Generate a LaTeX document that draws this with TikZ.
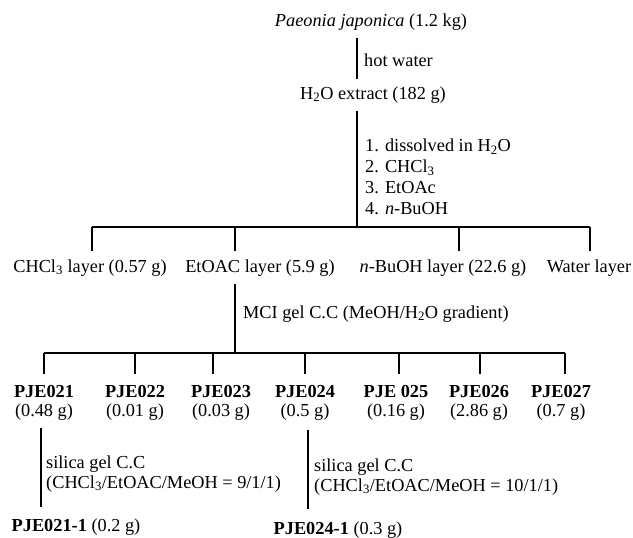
\documentclass[tikz,border=0pt]{standalone}
\usepackage{fontspec}
\setmainfont{Liberation Serif}
\newcommand\subs[1]{\textsubscript{#1}}
\tikzset{
  lbl/.style={inner sep=0pt, font=\fontsize{18.3}{21}\selectfont},
  frac/.style={lbl, align=center, font=\fontsize{18.3}{19}\selectfont},
  note/.style={lbl, anchor=west, align=left, font=\fontsize{18.3}{20}\selectfont},
  link/.style={line width=1.5pt},
}
\begin{document}
\begin{tikzpicture}[x=1pt,y=-1pt]
\useasboundingbox (0,0) rectangle (633,538);
% main chain
\node[lbl] (pj) at (371,22) {\textit{Paeonia japonica} (1.2 kg)};
\node[lbl] (h2o) at (373,95) {H\subs{2}O extract (182 g)};
\node[lbl, anchor=west] (hw) at (364,60) {hot water};
\node[note, font=\fontsize{18.3}{21}\selectfont] (steps) at (365,177) {1. dissolved in H\subs{2}O\\2. CHCl\subs{3}\\3. EtOAc\\4. \textit{n}-BuOH};
\coordinate (c1) at (357,0);
\draw[link, shorten <=7pt, shorten >=7pt] (pj.south -| c1) -- (h2o.north -| c1);
% first split
\coordinate (j1) at (357,227);
\coordinate (b1a) at (92,227);
\coordinate (b1b) at (235,227);
\coordinate (b1c) at (459,227);
\coordinate (b1d) at (590,227);
\draw[link, shorten <=7pt] (h2o.south -| j1) -- (j1);
\draw[link] (b1a) -- (b1d);
\node[lbl] (chcl) at (90,268) {CHCl\subs{3} layer (0.57 g)};
\node[lbl] (etoac) at (260,268) {EtOAC layer (5.9 g)};
\node[lbl] (buoh) at (443,268) {\textit{n}-BuOH layer (22.6 g)};
\node[lbl] (water) at (589,268) {Water layer};
\draw[link, shorten >=8pt] (b1a) -- (b1a |- chcl.north);
\draw[link, shorten >=8pt] (b1b) -- (b1b |- etoac.north);
\draw[link, shorten >=8pt] (b1c) -- (b1c |- buoh.north);
\draw[link, shorten >=8pt] (b1d) -- (b1d |- water.north);
% second split
\coordinate (j2) at (235,353);
\draw[link, shorten <=7pt] (etoac.south -| j2) -- (j2);
\node[lbl, anchor=west] (mci) at (243,314) {MCI gel C.C (MeOH/H\subs{2}O gradient)};
\coordinate (e1) at (44,353);
\coordinate (e2) at (135,353);
\coordinate (e3) at (213,353);
\coordinate (e4) at (305,353);
\coordinate (e5) at (399,353);
\coordinate (e6) at (480,353);
\coordinate (e7) at (565,353);
\draw[link] (e1) -- (e7);
\node[frac] (f1) at (44,403) {\textbf{PJE021}\\(0.48 g)};
\node[frac] (f2) at (135,403) {\textbf{PJE022}\\(0.01 g)};
\node[frac] (f3) at (221,403) {\textbf{PJE023}\\(0.03 g)};
\node[frac] (f4) at (305,403) {\textbf{PJE024}\\(0.5 g)};
\node[frac] (f5) at (396,403) {\textbf{PJE 025}\\(0.16 g)};
\node[frac] (f6) at (479,403) {\textbf{PJE026}\\(2.86 g)};
\node[frac] (f7) at (561,403) {\textbf{PJE027}\\(0.7 g)};
\foreach \i in {1,...,7}{
  \draw[link, shorten >=11pt] (e\i) -- (e\i |- f\i.north);
}
% sub-fractions
\node[lbl] (p11) at (76,527) {\textbf{PJE021-1} (0.2 g)};
\node[lbl] (p41) at (338,530) {\textbf{PJE024-1} (0.3 g)};
\coordinate (g1) at (41,0);
\coordinate (g4) at (308,0);
\draw[link, shorten <=7pt, shorten >=11pt] (f1.south -| g1) -- (p11.north -| g1);
\draw[link, shorten <=9pt, shorten >=12pt] (f4.south -| g4) -- (p41.north -| g4);
\node[note] (s1) at (46,474) {silica gel C.C\\(CHCl\subs{3}/EtOAC/MeOH = 9/1/1)};
\node[note] (s2) at (314,477) {silica gel C.C\\(CHCl\subs{3}/EtOAC/MeOH = 10/1/1)};
\end{tikzpicture}
\end{document}
